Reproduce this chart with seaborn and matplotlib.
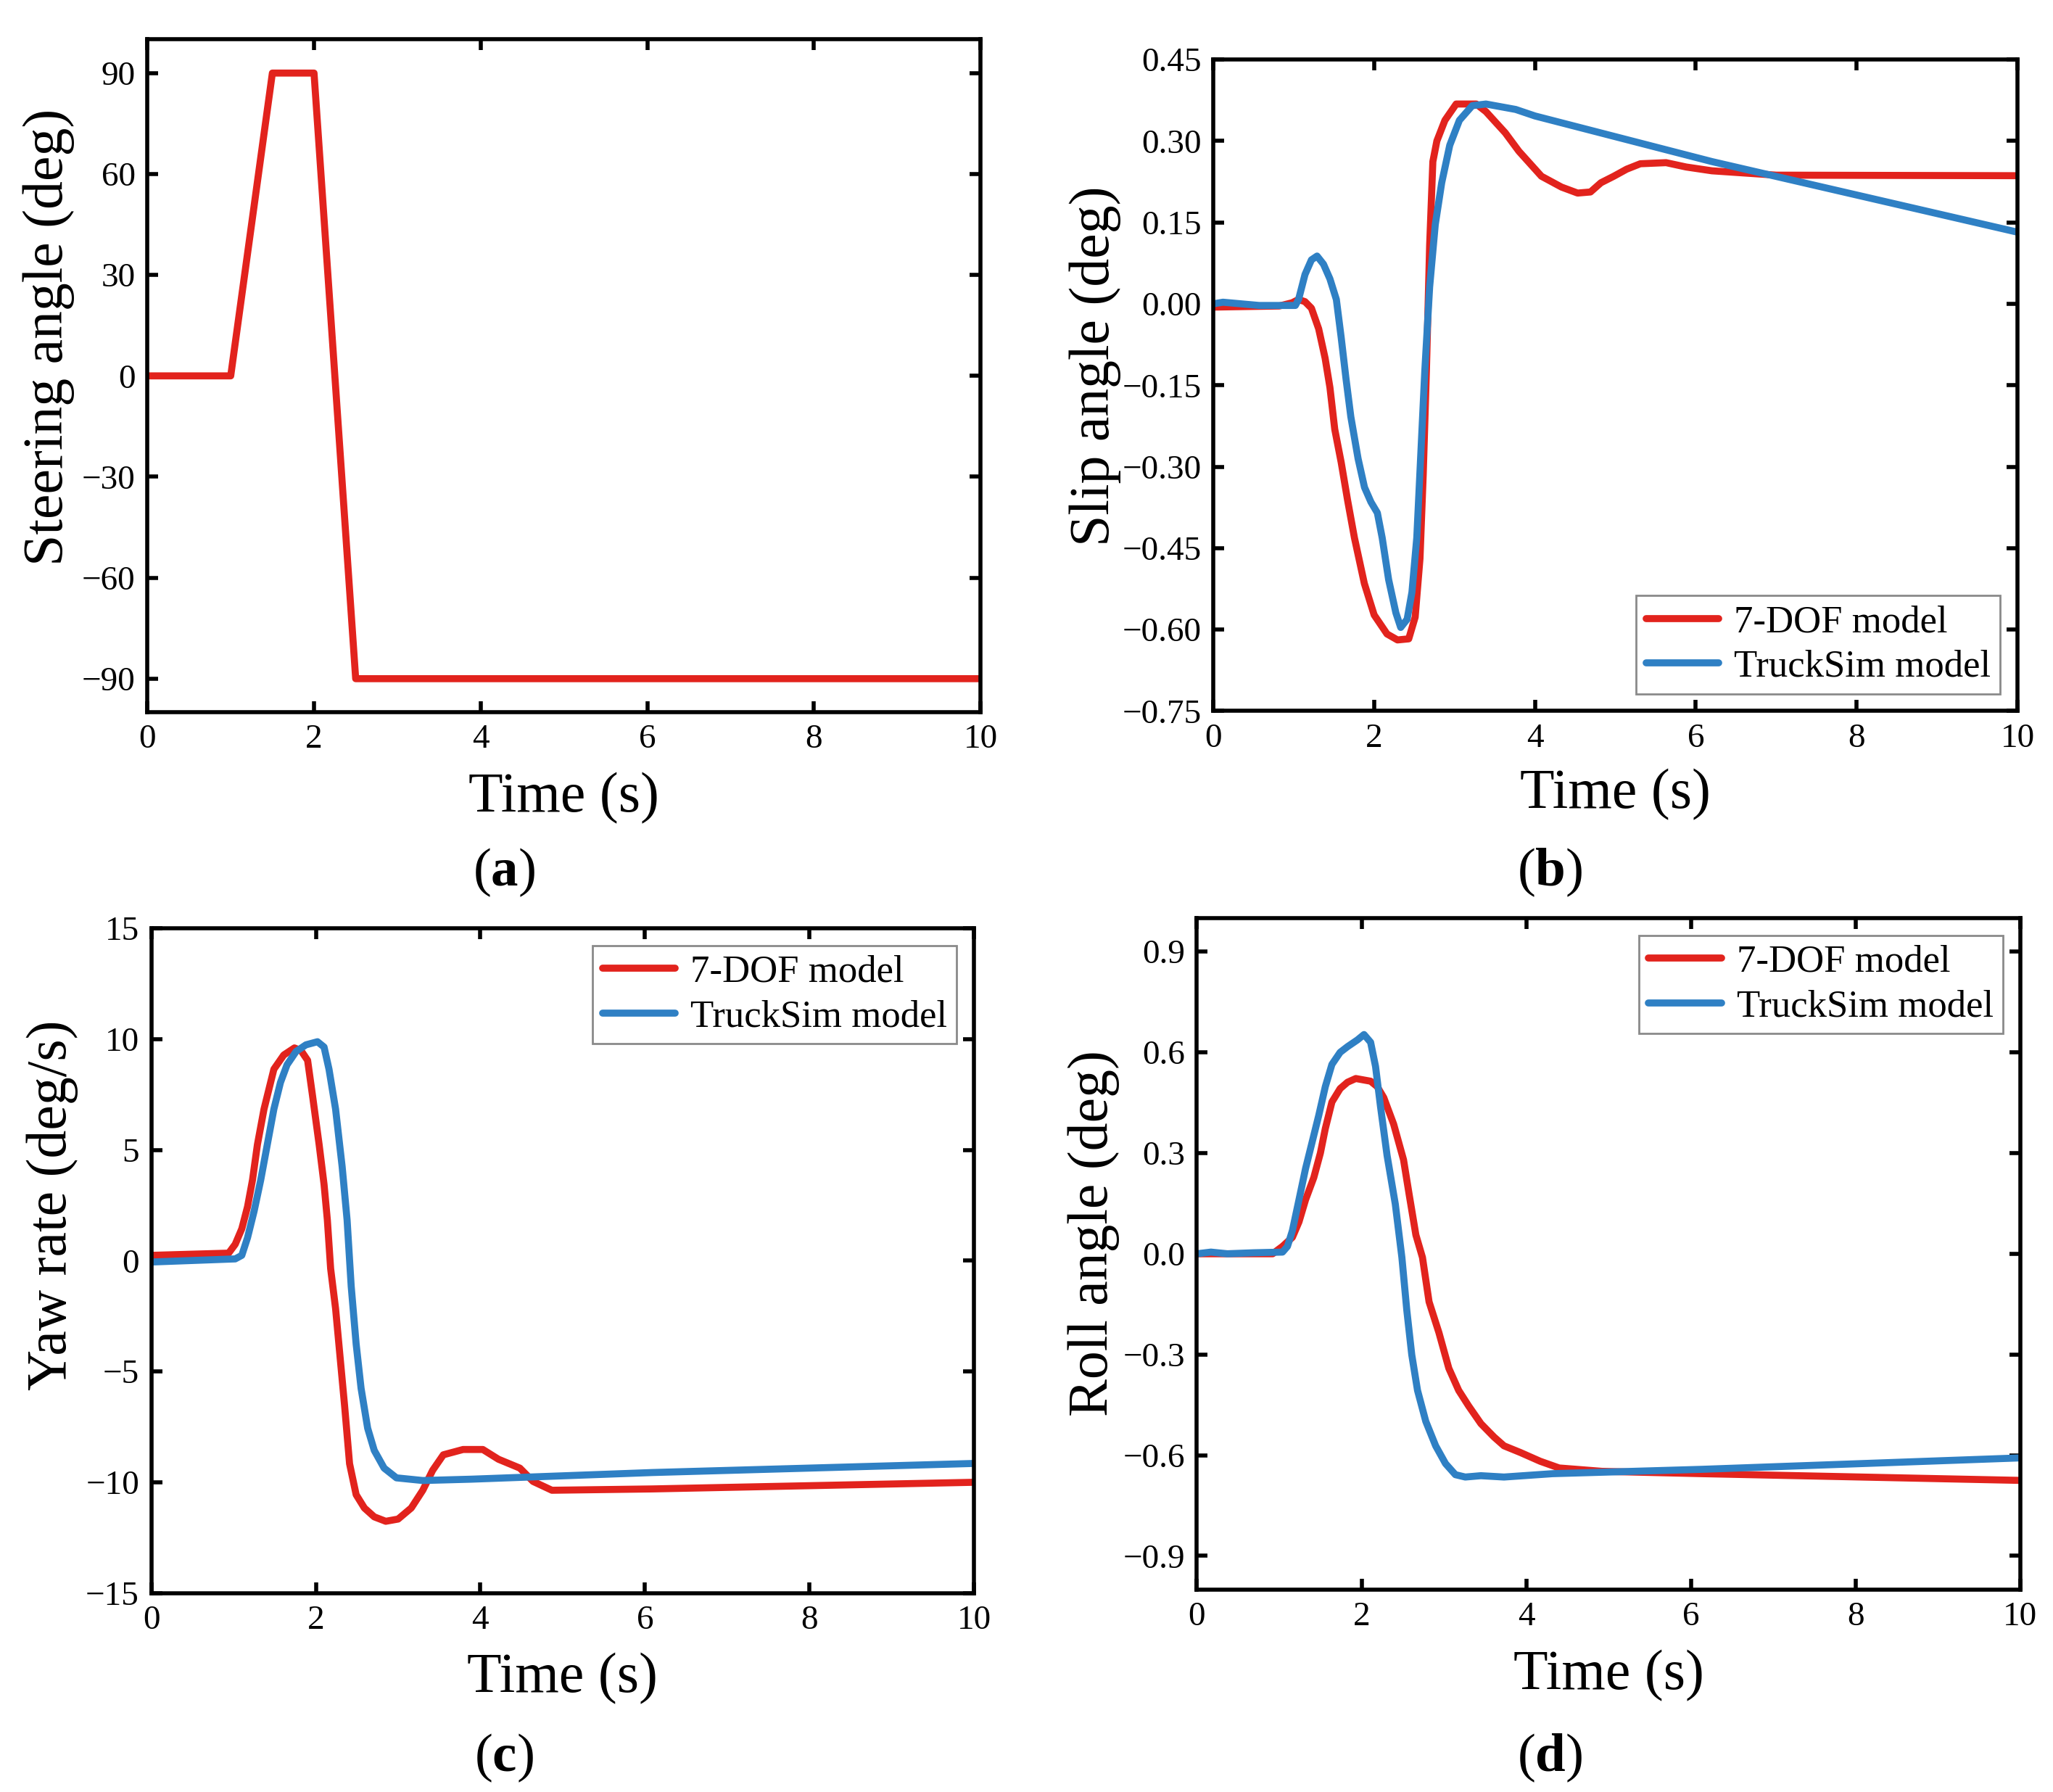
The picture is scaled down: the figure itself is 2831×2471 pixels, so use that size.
import numpy as np
import pandas as pd
import seaborn as sns
import matplotlib.pyplot as plt

# ---- data ----
steer_t = [0, 1, 1.5, 2, 2.5, 10]
steer_v = [0, 0, 90, 90, -90, -90]

# slip angle (deg)
slip_dof_t = [0, 0.82, 0.98, 1.06, 1.14, 1.22, 1.31, 1.39, 1.45, 1.51, 1.59, 1.67, 1.755, 1.878,
              2.0, 2.16, 2.29, 2.43, 2.51, 2.57, 2.61, 2.65, 2.69, 2.73, 2.78, 2.88, 3.02, 3.27,
              3.39, 3.63, 3.80, 4.08, 4.33, 4.53, 4.69, 4.82, 4.98, 5.14, 5.31, 5.63, 5.88, 6.2,
              7.0, 10]
slip_dof_v = [-0.006, -0.004, 0.002, 0.008, 0.004, -0.008, -0.046, -0.10, -0.154, -0.231, -0.292,
              -0.362, -0.431, -0.515, -0.573, -0.608, -0.619, -0.617, -0.577, -0.469, -0.315,
              -0.123, 0.108, 0.262, 0.30, 0.338, 0.368, 0.368, 0.354, 0.315, 0.281, 0.235, 0.215,
              0.204, 0.206, 0.223, 0.235, 0.248, 0.258, 0.26, 0.252, 0.245, 0.237, 0.236]
slip_ts_t = [0, 0.12, 0.57, 1.02, 1.06, 1.14, 1.22, 1.29, 1.37, 1.45, 1.53, 1.59, 1.65, 1.71, 1.80,
             1.88, 1.96, 2.04, 2.10, 2.18, 2.27, 2.33, 2.41, 2.47, 2.53, 2.58, 2.63, 2.69, 2.76,
             2.84, 2.94, 3.06, 3.22, 3.39, 3.76, 4.0, 6.2, 10]
slip_ts_v = [0.0, 0.003, -0.003, -0.003, 0.008, 0.054, 0.081, 0.088, 0.073, 0.046, 0.008, -0.062,
             -0.138, -0.208, -0.285, -0.338, -0.365, -0.385, -0.431, -0.508, -0.569, -0.596,
             -0.581, -0.531, -0.431, -0.277, -0.123, 0.031, 0.146, 0.223, 0.292, 0.338, 0.365,
             0.368, 0.358, 0.346, 0.262, 0.132]

# yaw rate (deg/s)
yaw_dof_t = [0, 0.94, 1.02, 1.1, 1.17, 1.23, 1.29, 1.37, 1.49, 1.61, 1.74, 1.82, 1.90, 1.96, 2.04,
             2.10, 2.14, 2.18, 2.24, 2.30, 2.35, 2.41, 2.49, 2.59, 2.71, 2.85, 3.0, 3.16, 3.30,
             3.42, 3.55, 3.79, 4.03, 4.22, 4.48, 4.64, 4.87, 6.09, 10]
yaw_dof_v = [0.24, 0.34, 0.74, 1.44, 2.44, 3.64, 5.24, 6.84, 8.64, 9.28, 9.6, 9.48, 9.04, 7.44,
             5.24, 3.44, 1.84, -0.36, -2.16, -4.56, -6.56, -9.16, -10.56, -11.16, -11.56, -11.76,
             -11.66, -11.16, -10.36, -9.46, -8.76, -8.52, -8.52, -8.96, -9.36, -9.96, -10.36,
             -10.3, -10.0]
yaw_ts_t = [0, 1.02, 1.1, 1.17, 1.25, 1.33, 1.41, 1.49, 1.57, 1.65, 1.76, 1.88, 2.02, 2.10, 2.16,
            2.24, 2.32, 2.38, 2.43, 2.49, 2.55, 2.63, 2.71, 2.83, 2.98, 3.30, 3.89, 6.09, 10]
yaw_ts_v = [-0.06, 0.08, 0.24, 1.04, 2.24, 3.64, 5.24, 6.84, 8.04, 8.84, 9.44, 9.74, 9.88, 9.64,
            8.64, 6.84, 4.24, 1.84, -1.16, -3.76, -5.76, -7.56, -8.56, -9.36, -9.8, -9.92, -9.86,
            -9.56, -9.15]

# roll angle (deg)
roll_dof_t = [0, 0.92, 1.04, 1.16, 1.24, 1.32, 1.42, 1.50, 1.56, 1.64, 1.74, 1.83, 1.93, 2.11,
              2.19, 2.27, 2.39, 2.51, 2.58, 2.66, 2.74, 2.82, 2.94, 3.06, 3.18, 3.30, 3.45, 3.61,
              3.73, 3.93, 4.17, 4.40, 4.92, 6.14, 10]
roll_dof_v = [0, 0, 0.022, 0.049, 0.095, 0.161, 0.227, 0.30, 0.373, 0.452, 0.492, 0.511, 0.522,
              0.514, 0.498, 0.465, 0.386, 0.28, 0.174, 0.056, -0.011, -0.143, -0.235, -0.341,
              -0.407, -0.453, -0.506, -0.546, -0.572, -0.592, -0.618, -0.638, -0.648, -0.655,
              -0.675]
roll_ts_t = [0, 0.17, 0.37, 0.69, 1.04, 1.10, 1.16, 1.24, 1.32, 1.40, 1.48, 1.56, 1.64, 1.74, 1.83,
             1.95, 2.03, 2.11, 2.17, 2.23, 2.31, 2.41, 2.49, 2.55, 2.61, 2.68, 2.78, 2.90, 3.02,
             3.14, 3.26, 3.45, 3.73, 4.32, 6.14, 10]
roll_ts_v = [0, 0.005, 0, 0.003, 0.005, 0.022, 0.069, 0.161, 0.254, 0.333, 0.412, 0.498, 0.564,
             0.60, 0.617, 0.637, 0.653, 0.63, 0.558, 0.439, 0.293, 0.148, -0.011, -0.169, -0.301,
             -0.407, -0.499, -0.572, -0.625, -0.658, -0.665, -0.661, -0.665, -0.655, -0.642,
             -0.608]

RED = "#e2231d"
BLUE = "#2f80c4"
LW = 3.5

sns.set_theme(style="ticks")
plt.rcParams["font.family"] = ["Liberation Serif", "DejaVu Serif"]
plt.rcParams["mathtext.fontset"] = "custom"
plt.rcParams["mathtext.rm"] = "Liberation Serif"
plt.rcParams["mathtext.bf"] = "Liberation Serif:bold"
plt.rcParams["axes.unicode_minus"] = True
plt.rcParams["text.color"] = "black"
plt.rcParams["axes.labelcolor"] = "black"
plt.rcParams["xtick.color"] = "black"
plt.rcParams["ytick.color"] = "black"
plt.rcParams["axes.edgecolor"] = "black"

fig = plt.figure(figsize=(14.155, 12.355), dpi=200)

ax_a = fig.add_axes([0.0718, 0.6025, 0.4058, 0.3755])
ax_b = fig.add_axes([0.591, 0.6032, 0.3917, 0.3636])
ax_c = fig.add_axes([0.0737, 0.111, 0.4007, 0.371])
ax_d = fig.add_axes([0.583, 0.113, 0.401, 0.3747])


def style_axes(ax, ylim, yticks, ylabel, ylab_x, ylab_y, fmt):
    ax.set_xlim(0, 10)
    ax.set_ylim(*ylim)
    ax.set_xticks([0, 2, 4, 6, 8, 10])
    ax.set_yticks(yticks)
    ax.set_yticklabels([fmt.format(v).replace("-", "\u2212") for v in yticks])
    ax.tick_params(direction="in", length=5.5, width=2, top=True, right=True,
                   labelsize=17, pad=6, colors="black")
    for sp in ax.spines.values():
        sp.set_linewidth(2)
        sp.set_color("black")
    ax.set_xlabel("Time (s)", fontsize=28, color="black")
    ax.xaxis.set_label_coords(0.5, -0.128)
    ax.xaxis.label.set_va("center")
    ax.set_ylabel(ylabel, fontsize=28, va="center", color="black")
    ax.yaxis.set_label_coords(ylab_x, ylab_y)


def add_legend(ax, loc):
    leg = ax.legend(loc=loc, fontsize=19, frameon=True, fancybox=False, framealpha=1,
                    edgecolor="#8a8a8a", handlelength=1.9, handletextpad=0.4,
                    borderpad=0.25, labelspacing=0.25, borderaxespad=0.45)
    leg.get_frame().set_linewidth(1.0)
    for txt in leg.get_texts():
        txt.set_color("black")


# (a) steering
sns.lineplot(x=steer_t, y=steer_v, ax=ax_a, color=RED, lw=LW, estimator=None, sort=False)
style_axes(ax_a, (-100, 100), [-90, -60, -30, 0, 30, 60, 90], "Steering angle (deg)",
           -0.118, 0.558, "{:d}")

# (b) slip angle
sns.lineplot(x=slip_dof_t, y=slip_dof_v, ax=ax_b, color=RED, lw=LW, estimator=None,
             sort=False, label="7-DOF model")
sns.lineplot(x=slip_ts_t, y=slip_ts_v, ax=ax_b, color=BLUE, lw=LW, estimator=None,
             sort=False, label="TruckSim model")
style_axes(ax_b, (-0.75, 0.45), [-0.75, -0.60, -0.45, -0.30, -0.15, 0.00, 0.15, 0.30, 0.45],
           "Slip angle (deg)", -0.147, 0.529, "{:.2f}")
add_legend(ax_b, "lower right")

# (c) yaw rate
sns.lineplot(x=yaw_dof_t, y=yaw_dof_v, ax=ax_c, color=RED, lw=LW, estimator=None,
             sort=False, label="7-DOF model")
sns.lineplot(x=yaw_ts_t, y=yaw_ts_v, ax=ax_c, color=BLUE, lw=LW, estimator=None,
             sort=False, label="TruckSim model")
style_axes(ax_c, (-15, 15), [-15, -10, -5, 0, 5, 10, 15], "Yaw rate (deg/s)",
           -0.12, 0.584, "{:d}")
add_legend(ax_c, "upper right")

# (d) roll angle
sns.lineplot(x=roll_dof_t, y=roll_dof_v, ax=ax_d, color=RED, lw=LW, estimator=None,
             sort=False, label="7-DOF model")
sns.lineplot(x=roll_ts_t, y=roll_ts_v, ax=ax_d, color=BLUE, lw=LW, estimator=None,
             sort=False, label="TruckSim model")
style_axes(ax_d, (-1.0, 1.0), [-0.9, -0.6, -0.3, 0.0, 0.3, 0.6, 0.9], "Roll angle (deg)",
           -0.125, 0.531, "{:.1f}")
add_legend(ax_d, "upper right")

# panel letters
for x, y, s in [(0.2455, 0.513, "a"), (0.755, 0.513, "b"), (0.2455, 0.019, "c"), (0.755, 0.019, "d")]:
    fig.text(x, y, "($\\mathbf{" + s + "}$)", fontsize=27, ha="center", va="center", color="black")

fig.savefig("out.png", dpi=200)
